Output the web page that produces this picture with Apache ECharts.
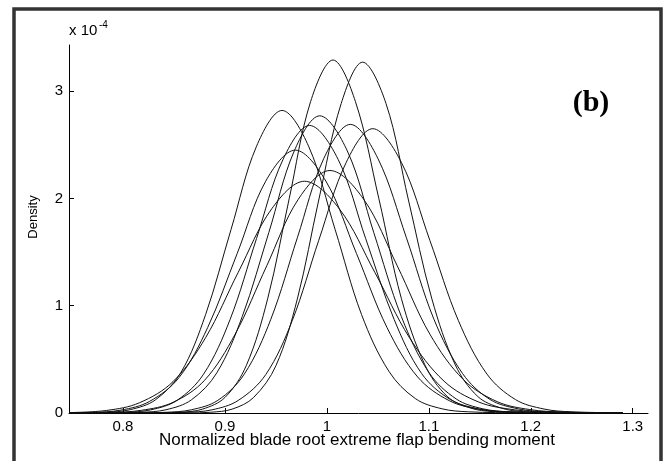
<!DOCTYPE html>
<html><head><meta charset="utf-8">
<script src="https://cdn.jsdelivr.net/npm/echarts@6/dist/echarts.min.js"></script>
<style>html,body{margin:0;padding:0;background:#fff}#c{width:667px;height:461px}</style>
</head><body><div id="c"></div>
<script>
// Tick labels
const xTicks = [0.8, 0.9, 1.0, 1.1, 1.2, 1.3];
const yTicks = [0, 1, 2, 3];

// Density curves (y in units of 1e-4)
const x1 = [0.747, 0.836, 0.857, 0.878, 0.900, 0.921, 0.942, 0.963, 0.984, 1.006, 1.028, 1.051, 1.073, 1.096, 1.118, 1.141, 1.163, 1.208, 1.29];
const y1 = [0, 0.001, 0.007, 0.036, 0.145, 0.444, 1.069, 1.997, 2.902, 3.29, 2.902, 1.997, 1.069, 0.451, 0.155, 0.046, 0.013, 0.002, 0];

const x2 = [0.747, 0.864, 0.886, 0.907, 0.928, 0.950, 0.971, 0.992, 1.014, 1.035, 1.058, 1.080, 1.103, 1.126, 1.148, 1.171, 1.193, 1.239, 1.29];
const y2 = [0, 0.001, 0.007, 0.036, 0.144, 0.441, 1.063, 1.985, 2.884, 3.27, 2.884, 1.985, 1.063, 0.448, 0.154, 0.046, 0.013, 0.002, 0];

const x3 = [0.747, 0.758, 0.782, 0.807, 0.832, 0.857, 0.881, 0.906, 0.931, 0.956, 0.982, 1.008, 1.034, 1.061, 1.087, 1.113, 1.139, 1.192, 1.29];
const y3 = [0, 0.001, 0.006, 0.031, 0.124, 0.381, 0.917, 1.712, 2.487, 2.82, 2.487, 1.712, 0.917, 0.386, 0.133, 0.039, 0.011, 0.002, 0];

const x4 = [0.747, 0.791, 0.817, 0.842, 0.867, 0.892, 0.917, 0.943, 0.968, 0.993, 1.020, 1.046, 1.073, 1.100, 1.127, 1.153, 1.180, 1.233, 1.29];
const y4 = [0, 0.001, 0.006, 0.030, 0.122, 0.374, 0.900, 1.681, 2.443, 2.77, 2.443, 1.681, 0.900, 0.379, 0.130, 0.039, 0.011, 0.002, 0];

const x5 = [0.747, 0.775, 0.801, 0.827, 0.853, 0.879, 0.905, 0.931, 0.957, 0.983, 1.011, 1.038, 1.066, 1.093, 1.121, 1.149, 1.176, 1.232, 1.29];
const y5 = [0, 0.001, 0.006, 0.029, 0.118, 0.362, 0.871, 1.627, 2.364, 2.68, 2.364, 1.627, 0.871, 0.367, 0.126, 0.038, 0.011, 0.002, 0];

const x6 = [0.747, 0.815, 0.841, 0.867, 0.893, 0.919, 0.945, 0.971, 0.997, 1.023, 1.050, 1.078, 1.105, 1.133, 1.160, 1.188, 1.215, 1.270, 1.29];
const y6 = [0, 0.001, 0.006, 0.030, 0.118, 0.363, 0.874, 1.633, 2.373, 2.69, 2.373, 1.633, 0.874, 0.369, 0.126, 0.038, 0.011, 0.002, 0];

const x7 = [0.747, 0.834, 0.861, 0.887, 0.913, 0.940, 0.966, 0.992, 1.019, 1.045, 1.073, 1.101, 1.129, 1.157, 1.185, 1.213, 1.240, 1.29];
const y7 = [0, 0.001, 0.006, 0.029, 0.117, 0.358, 0.861, 1.609, 2.337, 2.65, 2.337, 1.609, 0.861, 0.363, 0.125, 0.037, 0.011, 0.002];

const x8 = [0.747, 0.769, 0.798, 0.826, 0.855, 0.883, 0.912, 0.940, 0.969, 0.999, 1.029, 1.059, 1.089, 1.120, 1.150, 1.180, 1.240, 1.29];
const y8 = [0.001, 0.005, 0.027, 0.108, 0.331, 0.796, 1.487, 2.161, 2.45, 2.161, 1.487, 0.796, 0.336, 0.115, 0.034, 0.010, 0.0015, 0];

const x9 = [0.747, 0.756, 0.787, 0.818, 0.849, 0.880, 0.910, 0.941, 0.972, 1.003, 1.036, 1.069, 1.101, 1.134, 1.167, 1.199, 1.232, 1.29];
const y9 = [0, 0.001, 0.005, 0.025, 0.099, 0.305, 0.735, 1.372, 1.993, 2.26, 1.993, 1.372, 0.735, 0.310, 0.106, 0.032, 0.009, 0.002];

const x10 = [0.747, 0.784, 0.816, 0.849, 0.881, 0.913, 0.946, 0.978, 1.012, 1.047, 1.081, 1.115, 1.149, 1.184, 1.218, 1.29];
const y10 = [0.004, 0.024, 0.095, 0.292, 0.702, 1.311, 1.905, 2.16, 1.905, 1.311, 0.702, 0.296, 0.102, 0.030, 0.009, 0.001];

const xsList = [x1, x2, x3, x4, x5, x6, x7, x8, x9, x10];
const ysList = [y1, y2, y3, y4, y5, y6, y7, y8, y9, y10];

const chart = echarts.init(document.getElementById('c'), null, { renderer: 'canvas' });

const series = xsList.map((xs, k) => ({
  type: 'line',
  data: xs.map((x, i) => [x, ysList[k][i]]),
  showSymbol: false,
  symbol: 'none',
  smooth: 0.35,
  silent: true,
  lineStyle: { color: '#111', width: 1 },
  z: 2
}));

const isMult = (v, step) => Math.abs(v / step - Math.round(v / step)) < 1e-6;
const SANS = '"Liberation Sans", Arial, sans-serif';

const option = {
  animation: false,
  backgroundColor: '#fff',
  grid: { left: 69, right: 19, top: 45, bottom: 48, containLabel: false },
  xAxis: {
    type: 'value', min: 0.747, max: 1.315, interval: 0.1,
    axisLine: { show: true, onZero: false, lineStyle: { color: '#000', width: 1 } },
    axisTick: { show: true, inside: true, length: 5, customValues: xTicks, lineStyle: { color: '#000', width: 1 } },
    axisLabel: {
      customValues: xTicks, color: '#000', fontSize: 15, fontFamily: SANS, margin: 6,
      formatter: v => isMult(v, 0.1) ? String(Math.round(v * 10) / 10) : ''
    },
    splitLine: { show: false }
  },
  yAxis: {
    type: 'value', min: 0, max: 3.43, interval: 1,
    axisLine: { show: true, onZero: false, lineStyle: { color: '#000', width: 1 } },
    axisTick: { show: true, inside: true, length: 5, customValues: yTicks, lineStyle: { color: '#000', width: 1 } },
    axisLabel: {
      customValues: yTicks, color: '#000', fontSize: 15, fontFamily: SANS, margin: 6,
      formatter: v => isMult(v, 1) ? String(Math.round(v)) : ''
    },
    splitLine: { show: false }
  },
  graphic: [
    { type: 'rect', silent: true, z: 100,
      shape: { x: 14, y: 9, width: 647, height: 460 },
      style: { fill: 'none', stroke: '#333', lineWidth: 3.5 } },
    { type: 'text', silent: true, z: 100, x: 591, y: 103,
      style: { text: '(b)', font: 'bold 30px "Liberation Serif", "Times New Roman", serif', fill: '#000',
               textAlign: 'center', textVerticalAlign: 'middle', verticalAlign: 'middle' } },
    { type: 'text', silent: true, z: 100, x: 69, y: 38,
      style: { text: 'x 10', font: '15px ' + SANS, fill: '#000',
               textAlign: 'left', textVerticalAlign: 'bottom', verticalAlign: 'bottom' } },
    { type: 'text', silent: true, z: 100, x: 99, y: 30,
      style: { text: '-4', font: '10px ' + SANS, fill: '#000',
               textAlign: 'left', textVerticalAlign: 'bottom', verticalAlign: 'bottom' } },
    { type: 'text', silent: true, z: 100, x: 33, y: 217, rotation: Math.PI / 2,
      style: { text: 'Density', font: '13px ' + SANS, fill: '#000',
               textAlign: 'center', textVerticalAlign: 'middle', verticalAlign: 'middle' } },
    { type: 'text', silent: true, z: 100, x: 357, y: 440,
      style: { text: 'Normalized blade root extreme flap bending moment', font: '17px ' + SANS, fill: '#000',
               textAlign: 'center', textVerticalAlign: 'middle', verticalAlign: 'middle' } }
  ],
  series: series
};
chart.setOption(option);
</script>
</body></html>
